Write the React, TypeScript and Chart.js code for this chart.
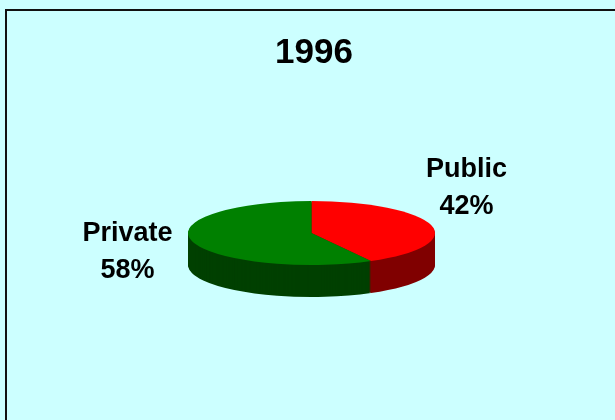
import React, { useEffect, useRef } from "react";
import { Chart, registerables } from "chart.js";

Chart.register(...registerables);

const title = "1996";
const categories = ["Public", "Private"];
const shares = [42, 58];
const topColors = ["#FF0000", "#008000"];
const sideColors = ["#800000", "#004000"];

const BG = "#CCFFFF";
const FONT = "'Liberation Sans', Arial, sans-serif";
const RADIUS = 123.5;
const TILT = 32 / 123.5;
const DEPTH = 32;
const CENTER = { x: 304.5, y: 222 };
const LABEL_OFFSETS = [
  { x: 155, y: -45 },
  { x: -184, y: 19.5 },
];

const pie3d = {
  id: "pie3d",
  beforeDatasetsDraw(chart: any) {
    const { ctx } = chart;
    const arcs = chart.getDatasetMeta(0).data;
    const cx = arcs[0].x;
    const cy = arcs[0].y;
    const apply = (d: number) => {
      ctx.translate(CENTER.x, CENTER.y + d);
      ctx.scale(1, TILT);
      ctx.translate(-cx, -cy);
    };
    for (let d = DEPTH; d >= 1; d -= 1) {
      arcs.forEach((arc: any, i: number) => {
        ctx.save();
        apply(d);
        const side = Object.create(arc);
        side.options = { ...arc.options, backgroundColor: sideColors[i], borderColor: sideColors[i] };
        side.draw(ctx);
        ctx.restore();
      });
    }
    ctx.save();
    apply(0);
  },
  afterDatasetsDraw(chart: any) {
    const { ctx } = chart;
    ctx.restore();
    ctx.save();
    ctx.fillStyle = "#000000";
    ctx.font = `bold 27px ${FONT}`;
    ctx.textAlign = "center";
    ctx.textBaseline = "middle";
    categories.forEach((name, i) => {
      const off = LABEL_OFFSETS[i];
      const x = CENTER.x + off.x;
      const y = CENTER.y + off.y;
      ctx.fillText(name, x, y - 18.5);
      ctx.fillText(`${shares[i]}%`, x, y + 18.5);
    });
    ctx.restore();
  },
};

export default function App() {
  const ref = useRef<HTMLCanvasElement>(null);
  useEffect(() => {
    const chart = new Chart(ref.current as HTMLCanvasElement, {
      type: "pie",
      data: {
        labels: categories,
        datasets: [
          {
            data: shares,
            backgroundColor: topColors,
            borderWidth: 0,
            clip: false,
          } as any,
        ],
      },
      options: {
        responsive: false,
        animation: false,
        radius: RADIUS,
        plugins: {
          legend: { display: false },
          tooltip: { enabled: false },
          title: {
            display: true,
            text: title,
            color: "#000000",
            font: { family: FONT, size: 35, weight: "bold", lineHeight: 1.2 },
            padding: { top: 21, bottom: 0 },
          },
        },
      } as any,
      plugins: [pie3d as any],
    });
    return () => chart.destroy();
  }, []);
  return (
    <div style={{ position: "fixed", inset: 0, background: BG, overflow: "hidden" }}>
      <div
        style={{
          position: "absolute",
          left: 5,
          top: 9,
          width: 800,
          height: 600,
          borderLeft: "2px solid #111",
          borderTop: "2px solid #111",
        }}
      >
        <canvas ref={ref} width={614} height={420} style={{ display: "block" }} />
      </div>
    </div>
  );
}
